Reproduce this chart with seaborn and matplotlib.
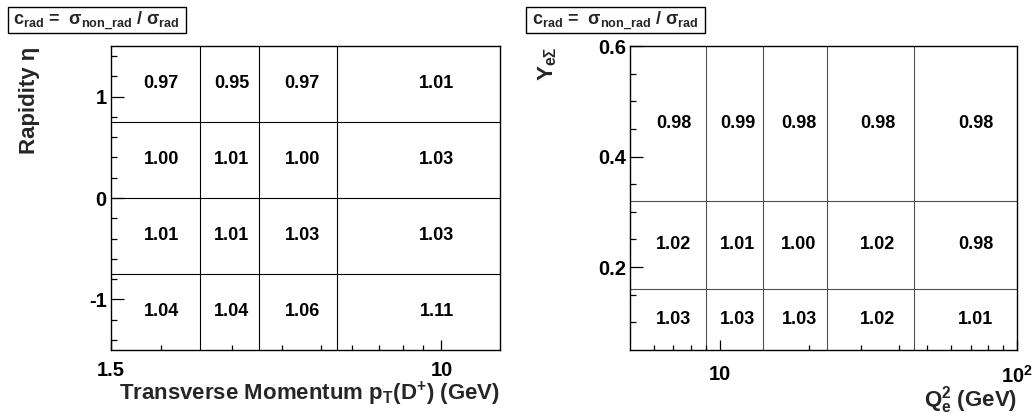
import numpy as np
import matplotlib
matplotlib.use("Agg")
import matplotlib.pyplot as plt
from matplotlib.colors import ListedColormap
from matplotlib.patches import Rectangle
import seaborn as sns

# ---- data ----
pt_edges = [1.5, 2.5, 3.5, 5.5, 14.0]
eta_edges = [-1.5, -0.75, 0.0, 0.75, 1.5]
# rows: eta bins from bottom to top; columns: pT bins
crad_pt_eta = [
    [1.04, 1.04, 1.06, 1.11],
    [1.01, 1.01, 1.03, 1.03],
    [1.00, 1.01, 1.00, 1.03],
    [0.97, 0.95, 0.97, 1.01],
]
q2_edges = [5, 9, 14, 23, 45, 100]
y_edges = [0.05, 0.16, 0.32, 0.6]
# rows: y bins from bottom to top; columns: Q2 bins
crad_q2_y = [
    [1.03, 1.03, 1.03, 1.02, 1.01],
    [1.02, 1.01, 1.00, 1.02, 0.98],
    [0.98, 0.99, 0.98, 0.98, 0.98],
]
left_xticks = [1.5, 10]
left_xticklabels = ["1.5", "10"]
left_yticks = [-1, 0, 1]
right_xticks = [10, 100]
right_xticklabels = ["10", r"$10^{2}$"]
right_yticks = [0.2, 0.4, 0.6]
box_text = r"$c_{rad}$ =  $\sigma_{non\_rad}$ / $\sigma_{rad}$"

sns.set_theme(style="white")
plt.rcParams["font.family"] = ["Liberation Sans", "DejaVu Sans"]
plt.rcParams["font.weight"] = "bold"
plt.rcParams["mathtext.fontset"] = "custom"
for k in ["rm", "it", "bf", "sf"]:
    plt.rcParams["mathtext." + k] = "Liberation Sans:bold"
plt.rcParams["mathtext.default"] = "bf"

W, H = 1034, 418
fig = plt.figure(figsize=(W / 100, H / 100), dpi=100)
fig.patch.set_facecolor("white")

def fx(px):
    return px / W

def fy(py):
    return 1 - py / H

axL = fig.add_axes([fx(111), fy(350), fx(500) - fx(111), fy(46) - fy(350)])
axR = fig.add_axes([fx(630), fy(350), fx(1017) - fx(630), fy(46) - fy(350)])

white = ListedColormap(["white"])

def draw_panel(ax, xe, ye, vals, edgecolor):
    vals = np.array(vals)
    ax.pcolormesh(xe, ye, vals, cmap=white, edgecolors="none", shading="flat")
    ax.vlines(xe[1:-1], ye[0], ye[-1], colors=edgecolor, linewidth=0.8, zorder=2)
    ax.hlines(ye[1:-1], xe[0], xe[-1], colors=edgecolor, linewidth=0.8, zorder=2)
    xc = [(xe[i] + xe[i + 1]) / 2 for i in range(len(xe) - 1)]
    yc = [(ye[j] + ye[j + 1]) / 2 for j in range(len(ye) - 1)]
    for j, yv in enumerate(yc):
        for i, xv in enumerate(xc):
            ax.text(xv, yv, f"{vals[j, i]:.2f}", ha="center", va="center",
                    fontsize=13, fontweight="bold", color="black")
    ax.set_xscale("log")
    ax.set_xlim(xe[0], xe[-1])
    ax.set_ylim(ye[0], ye[-1])
    ax.set_axisbelow(False)
    for s in ax.spines.values():
        s.set_visible(True)
        s.set_color("black")
        s.set_linewidth(1.0)
        s.set_zorder(3)
    ax.set_facecolor("white")

draw_panel(axL, pt_edges, eta_edges, crad_pt_eta, "black")
draw_panel(axR, q2_edges, y_edges, crad_q2_y, "#505050")

# left ticks
axL.set_xticks(left_xticks)
axL.set_xticklabels(left_xticklabels)
axL.set_xticks([2, 3, 4, 5, 6, 7, 8, 9], minor=True)
axL.set_xticklabels([], minor=True)
axL.set_yticks(left_yticks)
axL.set_yticklabels([str(v) for v in left_yticks])
axL.set_yticks(np.arange(-1.4, 1.41, 0.2), minor=True)

# right ticks
axR.set_xticks(right_xticks)
axR.set_xticklabels(right_xticklabels)
axR.set_xticks([6, 7, 8, 9, 20, 30, 40, 50, 60, 70, 80, 90], minor=True)
axR.set_xticklabels([], minor=True)
axR.set_yticks(right_yticks)
axR.set_yticklabels([f"{v:.1f}" for v in right_yticks])
axR.set_yticks(np.arange(0.1, 0.59, 0.05), minor=True)

for ax in (axL, axR):
    ax.tick_params(axis="both", which="both", direction="in", colors="black",
                   top=False, right=False, bottom=True, left=True, width=0.9)
    ax.tick_params(axis="y", which="major", length=9, pad=3, labelsize=14.5)
    ax.tick_params(axis="y", which="minor", length=4.5)
    ax.tick_params(axis="x", which="major", length=7, labelsize=14.5)
    ax.tick_params(axis="x", which="minor", length=3.5)
    for lab in ax.get_xticklabels() + ax.get_yticklabels():
        lab.set_fontweight("bold")
axL.tick_params(axis="x", which="major", pad=8)
axR.tick_params(axis="x", which="major", pad=11)

# axis titles
fig.text(fx(500), fy(400), r"Transverse Momentum p$_{T}$(D$^{+}$) (GeV)",
         ha="right", va="baseline", fontsize=16, fontweight="bold")
fig.text(fx(1017), fy(406), r"Q$_{e}^{2}$ (GeV)",
         ha="right", va="baseline", fontsize=16, fontweight="bold")
fig.text(fx(29), fy(47), "Rapidity η", rotation=90, ha="center", va="top",
         fontsize=16, fontweight="bold")
fig.text(fx(548), fy(47), r"Y$_{e\Sigma}$", rotation=90, ha="center", va="top",
         fontsize=16, fontweight="bold")

# title boxes
for x0, x1 in [(7.5, 186), (526, 704.5)]:
    fig.patches.append(Rectangle((fx(x0), fy(33)), fx(x1) - fx(x0), fy(7.5) - fy(33),
                                 transform=fig.transFigure, facecolor="white",
                                 edgecolor="black", linewidth=1.0))
    fig.text((fx(x0) + fx(x1)) / 2, fy(21), box_text, ha="center", va="center",
             fontsize=13, fontweight="bold")

fig.savefig("out.png", dpi=100, facecolor="white")
